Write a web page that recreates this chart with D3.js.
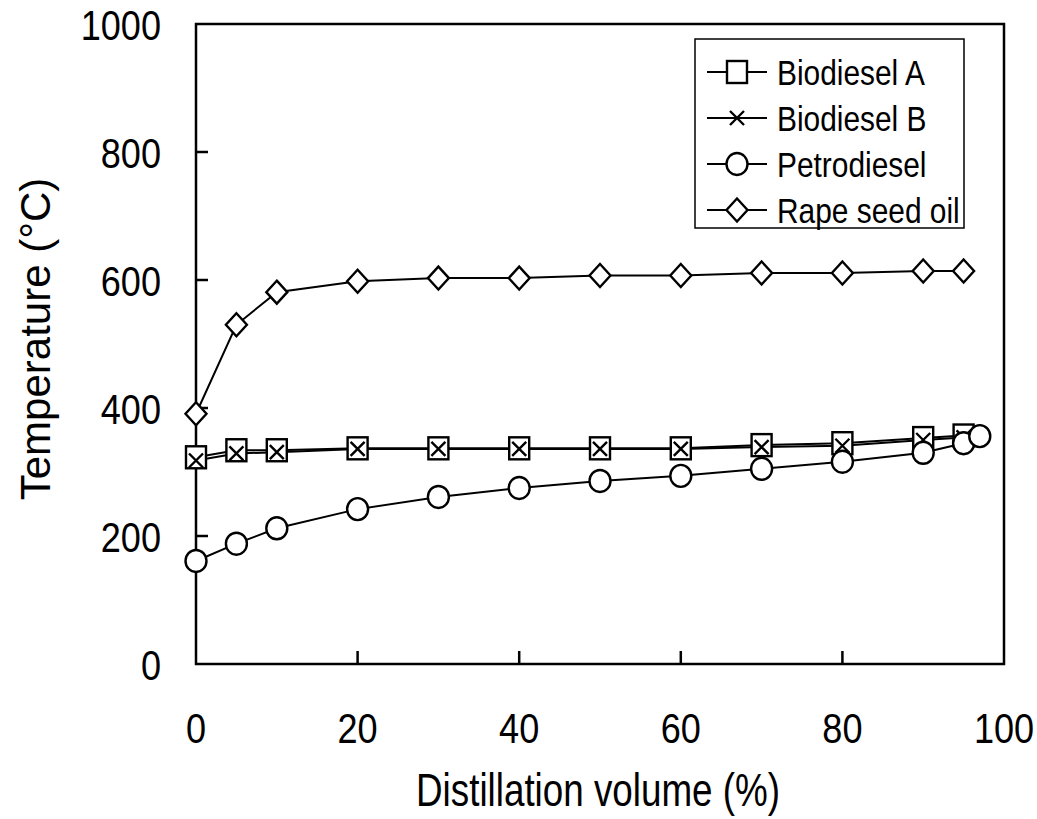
<!DOCTYPE html>
<html lang="en">
<head>
<meta charset="UTF-8">
<title>Distillation curves</title>
<script src="https://d3js.org/d3.v7.min.js"></script>
<style>
    body { margin: 0; background: #fff; }
    svg { display: block; }
    text { font-family: "Liberation Sans", Arial, sans-serif; fill: #000; }
    .frame, .tick { stroke: #000; stroke-width: 2.5px; fill: none; }
    .series { fill: none; stroke: #000; stroke-width: 2px; }
    .marker { fill: #fff; stroke: #000; stroke-width: 2.4px; }
</style>
</head>
<body>
<div id="chart"></div>
<script>
    // values
    const volume = [0, 5, 10, 20, 30, 40, 50, 60, 70, 80, 90, 95];
    const volumePetro = [0, 5, 10, 20, 30, 40, 50, 60, 70, 80, 90, 95, 97];
    const biodieselA = [323, 334, 334, 337, 337, 337, 337, 337, 342, 345, 353, 357];
    const biodieselB = [318, 329, 331, 336, 336, 336, 336, 336, 339, 341, 350, 354];
    const petrodiesel = [161, 188, 212, 242, 261, 275, 286, 294, 305, 316, 330, 345, 356];
    const rapeSeedOil = [391, 530, 581, 598, 603, 603, 607, 607, 611, 611, 614, 614];

    const xTicks = [0, 20, 40, 60, 80, 100];
    const yTicks = [0, 200, 400, 600, 800, 1000];

    const seriesNames = ["Biodiesel A", "Biodiesel B", "Petrodiesel", "Rape seed oil"];
    const seriesShapes = ["square", "cross", "circle", "diamond"];

    const series = [
        { name: seriesNames[0], shape: seriesShapes[0], x: volume, y: biodieselA },
        { name: seriesNames[1], shape: seriesShapes[1], x: volume, y: biodieselB },
        { name: seriesNames[2], shape: seriesShapes[2], x: volumePetro, y: petrodiesel },
        { name: seriesNames[3], shape: seriesShapes[3], x: volume, y: rapeSeedOil }
    ];

    const width = 1037, height = 819;
    const plot = { left: 196, top: 24, right: 1004, bottom: 664 };

    const svg = d3.select("#chart").append("svg")
        .attr("width", width)
        .attr("height", height);

    const x = d3.scaleLinear().domain([0, 100]).range([plot.left, plot.right]);
    const y = d3.scaleLinear().domain([0, 1000]).range([plot.bottom, plot.top]);

    // the original font is a narrow gothic face, so squeeze the text sideways
    function label(parent, px, py, str, size, k, anchor) {
        return parent.append("text")
            .attr("transform", `translate(${px},${py}) scale(${k},1)`)
            .attr("text-anchor", anchor || "start")
            .style("font-size", size + "px")
            .text(str);
    }

    // inward ticks
    svg.append("g").selectAll("line")
        .data(yTicks.slice(1, -1))
        .join("line")
        .attr("class", "tick")
        .attr("x1", plot.left).attr("x2", plot.left + 12)
        .attr("y1", d => y(d)).attr("y2", d => y(d));

    svg.append("g").selectAll("line")
        .data(xTicks.slice(1, -1))
        .join("line")
        .attr("class", "tick")
        .attr("x1", d => x(d)).attr("x2", d => x(d))
        .attr("y1", plot.bottom).attr("y2", plot.bottom - 13);

    svg.append("rect")
        .attr("class", "frame")
        .attr("x", plot.left).attr("y", plot.top)
        .attr("width", plot.right - plot.left)
        .attr("height", plot.bottom - plot.top);

    // tick labels
    const yLabels = svg.append("g");
    yTicks.forEach(d => label(yLabels, plot.left - 35, y(d) + 16, d, 43, 0.84, "end"));

    const xLabels = svg.append("g");
    xTicks.forEach(d => label(xLabels, x(d), 743, d, 43, 0.84, "middle"));

    // axis titles
    svg.append("text")
        .attr("transform", "translate(50,339) rotate(-90)")
        .attr("text-anchor", "middle")
        .style("font-size", "42px")
        .text("Temperature (°C)");

    label(svg, 598, 806, "Distillation volume (%)", 46, 0.8, "middle");

    // markers
    function drawMarker(g, shape) {
        if (shape === "square") {
            g.append("rect").attr("class", "marker")
                .attr("x", -10).attr("y", -11).attr("width", 20).attr("height", 22);
        } else if (shape === "circle") {
            g.append("ellipse").attr("class", "marker")
                .attr("rx", 10.5).attr("ry", 11);
        } else if (shape === "diamond") {
            g.append("path").attr("class", "marker")
                .attr("d", "M0,-11.5L10.5,0L0,11.5L-10.5,0Z");
        } else {
            g.append("path").attr("class", "marker")
                .style("fill", "none")
                .attr("d", "M-7,-7L7,7M-7,7L7,-7");
        }
    }

    const line = d3.line().x(d => x(d[0])).y(d => y(d[1]));

    // all lines first, then the markers on top
    svg.append("g").selectAll("path")
        .data(series)
        .join("path")
        .attr("class", "series")
        .attr("d", s => line(s.x.map((v, i) => [v, s.y[i]])));

    series.forEach(s => {
        svg.append("g").selectAll("g")
            .data(s.x.map((v, i) => [v, s.y[i]]))
            .join("g")
            .attr("transform", d => `translate(${x(d[0])},${y(d[1])})`)
            .each(function () { drawMarker(d3.select(this), s.shape); });
    });

    // legend
    const legend = svg.append("g");
    legend.append("rect")
        .attr("x", 695).attr("y", 39)
        .attr("width", 269).attr("height", 189)
        .style("fill", "#fff").style("stroke", "#000").style("stroke-width", "1.5px");

    const rows = legend.selectAll("g.row")
        .data(series)
        .join("g")
        .attr("class", "row")
        .attr("transform", (d, i) => `translate(0,${72 + i * 46})`);

    rows.append("line")
        .attr("x1", 707).attr("x2", 767)
        .style("stroke", "#000").style("stroke-width", "2px");

    rows.append("g")
        .attr("transform", "translate(737,0)")
        .each(function (d) { drawMarker(d3.select(this), d.shape); });

    rows.each(function (d) { label(d3.select(this), 777, 13, d.name, 36, 0.83); });
</script>
</body>
</html>
